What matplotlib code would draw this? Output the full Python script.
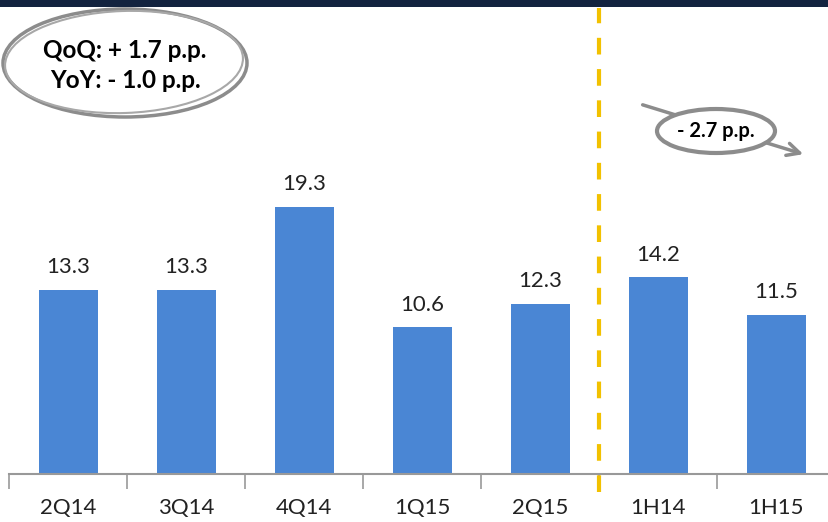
import matplotlib.pyplot as plt
from matplotlib.patches import Ellipse, Rectangle

plt.rcParams['font.family'] = ['Lato', 'DejaVu Sans']

periods = ['2Q14', '3Q14', '4Q14', '1Q15', '2Q15', '1H14', '1H15']
values = [13.3, 13.3, 19.3, 10.6, 12.3, 14.2, 11.5]
qoq_text = 'QoQ: + 1.7 p.p.'
yoy_text = 'YoY: - 1.0 p.p.'
half_text = '- 2.7 p.p.'

bar_color = '#4A86D4'
grey = '#8C8C8C'

W, H = 829, 522
fig = plt.figure(figsize=(W / 100, H / 100), dpi=100)

ax = fig.add_axes([9 / W, 48 / H, 118 * 7 / W, (474 - 8) / H])
x = list(range(len(periods)))
ax.bar(x, values, width=0.5, color=bar_color, zorder=2)
for xi, v in zip(x, values):
    ax.annotate(f'{v:.1f}', (xi, v), xytext=(0, 9), textcoords='offset points',
                ha='center', va='bottom', fontsize=16, color='#222222')

ax.set_xlim(-0.5, len(periods) - 0.5)
ax.set_ylim(0, 466 / 13.85)
ax.set_xticks(x)
ax.set_xticklabels(periods, fontsize=16, color='#222222')
ax.tick_params(axis='x', which='major', length=0, pad=17)
ax.set_xticks([i + 0.5 for i in range(-1, len(periods) - 1)], minor=True)
ax.tick_params(axis='x', which='minor', length=11, width=1.2, color='#999999')
ax.set_yticks([])
for side in ['top', 'right', 'left']:
    ax.spines[side].set_visible(False)
ax.spines['bottom'].set_color('#999999')
ax.spines['bottom'].set_linewidth(1.5)

# separator between quarters and half-years
ax.axvline(4.5, ymin=-18 / 466, ymax=1, color='#F2C100', lw=3,
           dashes=(4, 3.5), clip_on=False, zorder=3)

# overlay in pixel coordinates for header band and callouts
ov = fig.add_axes([0, 0, 1, 1], facecolor='none')
ov.set_xlim(0, W)
ov.set_ylim(H, 0)
ov.axis('off')
ov.add_patch(Rectangle((0, 0), W, 7, color='#13233F', lw=0))

ov.add_patch(Ellipse((125, 63), 244, 108, fill=False, ec=grey, lw=2.5))
ov.add_patch(Ellipse((124, 62), 238, 102, angle=-2, fill=False, ec='#A8A8A8', lw=1.5))
ov.text(125, 51, qoq_text, ha='center', va='center', fontsize=17.5, fontweight='bold')
ov.text(125, 81, yoy_text, ha='center', va='center', fontsize=17.5, fontweight='bold')

ov.annotate('', xy=(806, 155), xytext=(640, 104),
            arrowprops=dict(arrowstyle='->,head_length=0.9,head_width=0.45',
                            color=grey, lw=2.5))
ov.add_patch(Ellipse((716, 131), 118, 44, fc='white', ec=grey, lw=3, zorder=3))
ov.text(716, 131, half_text, ha='center', va='center', fontsize=14.5,
        fontweight='bold', zorder=4)

fig.savefig('out.png', dpi=100)
